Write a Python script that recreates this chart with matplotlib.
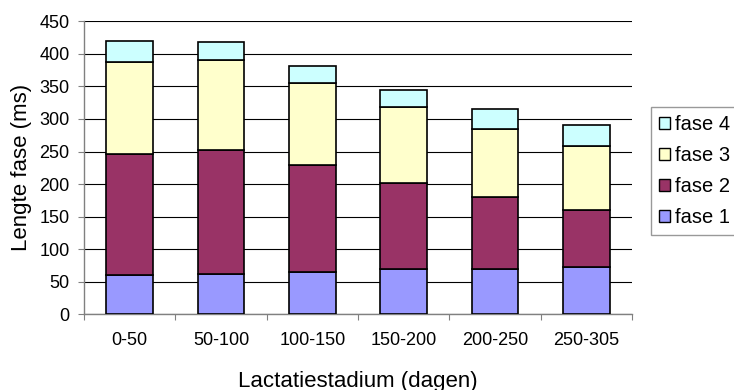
import matplotlib
matplotlib.use("Agg")
import matplotlib.pyplot as plt
import numpy as np
from matplotlib.patches import Patch

categories = ["0-50", "50-100", "100-150", "150-200", "200-250", "250-305"]
fase1 = [60, 62, 65, 70, 70, 73]
fase2 = [186, 191, 164, 132, 110, 87]
fase3 = [142, 137, 127, 117, 105, 98]
fase4 = [32, 28, 25, 25, 31, 32]
series = [("fase 1", fase1, "#9999FF"),
          ("fase 2", fase2, "#993366"),
          ("fase 3", fase3, "#FFFFCC"),
          ("fase 4", fase4, "#CCFFFF")]
yticks = list(range(0, 451, 50))

plt.rcParams["font.family"] = ["Liberation Sans", "DejaVu Sans"]

fig = plt.figure(figsize=(7.34, 3.90), dpi=100)
ax = fig.add_axes([84 / 734, 1 - 314.3 / 390, (632 - 84) / 734, (314.3 - 21.3) / 390])

x = np.arange(len(categories))
bottom = np.zeros(len(categories))
for name, vals, col in series:
    ax.bar(x, vals, width=0.51, bottom=bottom, color=col, edgecolor="black",
           linewidth=1.2, label=name, zorder=3)
    bottom += np.array(vals)

ax.set_xlim(-0.5, len(categories) - 0.5)
ax.set_ylim(0, 450)
ax.set_yticks(yticks)
ax.yaxis.grid(True, color="black", linewidth=0.8, zorder=0)
ax.set_axisbelow(True)

# category boundaries carry the tick marks, labels sit at bar centres
ax.set_xticks(np.arange(-0.5, len(categories), 1.0))
ax.set_xticklabels([])
ax.set_xticks(x, minor=True)
ax.set_xticklabels(categories, minor=True)
ax.tick_params(axis="x", which="minor", length=0, pad=13, labelsize=13)
ax.tick_params(axis="x", which="major", length=4, color="#808080", direction="out")
ax.tick_params(axis="y", length=4, color="#808080", labelsize=13, direction="out", pad=6.5)

for side in ["top", "right"]:
    ax.spines[side].set_visible(False)
for side in ["left", "bottom"]:
    ax.spines[side].set_color("#808080")
    ax.spines[side].set_linewidth(1.0)

ax.set_ylabel("Lengte fase (ms)", fontsize=16, va="center")
ax.yaxis.set_label_coords((22 - 84) / 548, 0.5)
ax.set_xlabel("Lactatiestadium (dagen)", fontsize=16, va="baseline")
ax.xaxis.set_label_coords(0.5, -(386.5 - 314.3) / 293)

handles = [Patch(facecolor=col, edgecolor="black", linewidth=1.0, label=name)
           for name, vals, col in reversed(series)]
leg = fig.legend(handles=handles, loc="upper left", bbox_to_anchor=(650.5 / 734, 1 - 107 / 390),
                 frameon=True, fancybox=False, edgecolor="#808080", fontsize=14.5,
                 handlelength=0.55, handleheight=0.55, handletextpad=0.25,
                 borderpad=0.4, labelspacing=0.6, borderaxespad=0)
leg.get_frame().set_linewidth(1.0)

fig.savefig("out.png", dpi=100)
